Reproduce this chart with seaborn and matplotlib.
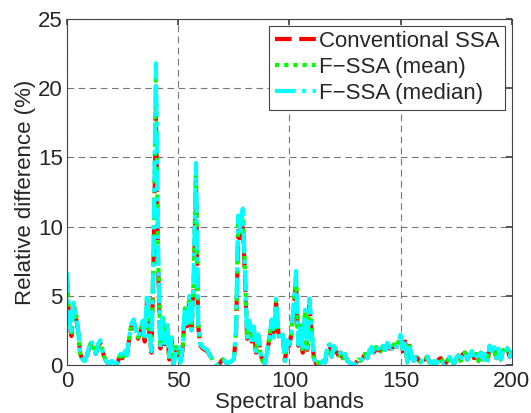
import numpy as np
import pandas as pd
import seaborn as sns
from matplotlib import pyplot as plt

# relative difference per spectral band (0..200)
bands = list(range(201))

median_vals = [
    6.7, 3.5, 2.2, 4.5, 3.8, 2.6, 0.8, 0.4, 0.3, 0.7,
    1.3, 1.8, 1.2, 0.8, 1.5, 1.8, 1.0, 0.5, 0.2, 0.1,
    0.3, 0.2, 0.0, 0.3, 0.8, 0.5, 1.0, 0.7, 2.0, 3.0,
    3.3, 2.5, 2.0, 2.5, 3.2, 1.8, 5.2, 2.5, 1.0, 9.0,
    21.8, 8.0, 1.3, 3.6, 1.6, 3.1, 0.4, 2.0, 0.0, 1.3,
    1.3, 0.2, 1.2, 4.2, 3.0, 5.0, 2.5, 6.5, 14.6, 3.0,
    1.5, 1.3, 1.2, 1.1, 0.8, 0.5, 0.3, 0.1, 0.0, 0.2,
    0.4, 0.3, 0.1, 0.2, 0.3, 0.4, 2.5, 10.8, 9.5, 11.3,
    7.0, 2.0, 3.2, 1.8, 2.8, 1.0, 2.2, 0.8, 0.3, 0.1,
    1.0, 2.0, 3.3, 2.0, 4.8, 2.5, 1.8, 2.2, 0.3, 1.8,
    1.5, 2.5, 4.5, 6.8, 1.5, 3.0, 1.0, 4.0, 1.2, 4.8,
    2.5, 0.5, 0.1, 0.2, 0.1, 0.3, 0.2, 1.2, 1.6, 0.6,
    1.4, 1.0, 0.7, 0.9, 0.5, 0.8, 0.3, 0.2, 0.1, 0.0,
    0.2, 0.4, 0.3, 0.5, 0.8, 0.5, 1.1, 1.3, 0.9, 1.3,
    1.2, 1.0, 1.4, 1.1, 1.6, 1.3, 1.2, 1.5, 1.3, 1.7,
    2.2, 1.0, 1.8, 0.2, 1.5, 0.5, 0.3, 0.6, 0.4, 0.2,
    0.5, 0.4, 0.6, 0.2, 0.1, 0.3, 0.1, 0.4, 0.5, 0.2,
    0.1, 0.3, 0.6, 0.3, 0.1, 0.5, 0.7, 0.3, 0.8, 0.9,
    0.4, 0.7, 1.0, 0.5, 0.8, 0.3, 0.9, 0.4, 0.8, 0.2,
    1.4, 1.0, 1.3, 0.5, 1.2, 0.4, 1.1, 0.9, 1.2, 0.6,
    1.1,
]

mean_vals = [
    6.5, 3.4, 2.2, 4.4, 3.7, 2.6, 0.8, 0.4, 0.3, 0.7,
    1.3, 1.7, 1.2, 0.8, 1.5, 1.7, 1.0, 0.5, 0.2, 0.1,
    0.3, 0.2, 0.0, 0.3, 0.8, 0.5, 1.0, 0.7, 2.0, 3.0,
    3.2, 2.5, 2.0, 2.5, 3.1, 1.8, 5.0, 2.5, 1.0, 8.8,
    21.0, 7.8, 1.3, 3.5, 1.6, 3.0, 0.4, 2.0, 0.0, 1.3,
    1.3, 0.2, 1.2, 4.1, 3.0, 4.9, 2.5, 6.3, 14.2, 3.0,
    1.5, 1.3, 1.2, 1.1, 0.8, 0.5, 0.3, 0.1, 0.0, 0.2,
    0.4, 0.3, 0.1, 0.2, 0.3, 0.4, 2.4, 10.5, 9.3, 11.0,
    6.8, 2.0, 3.1, 1.8, 2.7, 1.0, 2.2, 0.8, 0.3, 0.1,
    1.0, 2.0, 3.2, 2.0, 4.7, 2.5, 1.8, 2.2, 0.3, 1.8,
    1.5, 2.5, 4.4, 6.5, 1.5, 3.0, 1.0, 3.9, 1.2, 4.6,
    2.5, 0.5, 0.1, 0.2, 0.1, 0.3, 0.2, 1.2, 1.5, 0.6,
    1.4, 1.0, 0.7, 0.9, 0.5, 0.8, 0.3, 0.2, 0.1, 0.0,
    0.2, 0.4, 0.3, 0.5, 0.8, 0.5, 1.1, 1.3, 0.9, 1.3,
    1.2, 1.0, 1.4, 1.1, 1.6, 1.3, 1.2, 1.5, 1.3, 1.7,
    2.1, 1.0, 1.7, 0.2, 1.5, 0.5, 0.3, 0.6, 0.4, 0.2,
    0.5, 0.4, 0.6, 0.2, 0.1, 0.3, 0.1, 0.4, 0.5, 0.2,
    0.1, 0.3, 0.6, 0.3, 0.1, 0.5, 0.7, 0.3, 0.8, 0.9,
    0.4, 0.7, 1.0, 0.5, 0.8, 0.3, 0.9, 0.4, 0.8, 0.2,
    1.4, 1.0, 1.3, 0.5, 1.2, 0.4, 1.1, 0.9, 1.2, 0.6,
    1.1,
]

conventional_vals = [
    6.1, 3.3, 2.1, 4.2, 3.5, 2.5, 0.8, 0.4, 0.3, 0.7,
    1.2, 1.6, 1.2, 0.8, 1.4, 1.6, 1.0, 0.5, 0.2, 0.1,
    0.3, 0.2, 0.0, 0.3, 0.7, 0.5, 0.9, 0.7, 1.9, 2.8,
    3.1, 2.4, 1.9, 2.4, 3.0, 1.7, 4.7, 2.4, 0.9, 8.0,
    18.3, 7.2, 1.2, 3.3, 1.5, 2.8, 0.4, 1.9, 0.0, 1.2,
    1.2, 0.2, 1.1, 3.9, 2.8, 4.6, 2.4, 5.8, 13.3, 2.8,
    1.4, 1.2, 1.1, 1.0, 0.8, 0.5, 0.3, 0.1, 0.0, 0.2,
    0.4, 0.3, 0.1, 0.2, 0.3, 0.4, 2.2, 9.7, 8.8, 10.4,
    6.4, 1.9, 3.0, 1.7, 2.6, 0.9, 2.1, 0.8, 0.3, 0.1,
    0.9, 1.9, 3.0, 1.9, 4.5, 2.4, 1.7, 2.1, 0.3, 1.7,
    1.4, 2.4, 4.2, 6.0, 1.4, 2.8, 0.9, 3.7, 1.1, 4.3,
    2.3, 0.5, 0.1, 0.2, 0.1, 0.3, 0.2, 1.1, 1.5, 0.6,
    1.3, 1.0, 0.7, 0.9, 0.5, 0.8, 0.3, 0.2, 0.1, 0.0,
    0.2, 0.4, 0.3, 0.5, 0.8, 0.5, 1.0, 1.2, 0.9, 1.2,
    1.1, 1.0, 1.3, 1.1, 1.5, 1.2, 1.2, 1.4, 1.3, 1.6,
    2.0, 1.0, 1.7, 0.2, 1.4, 0.5, 0.3, 0.6, 0.4, 0.2,
    0.5, 0.4, 0.6, 0.2, 0.1, 0.3, 0.1, 0.4, 0.5, 0.2,
    0.1, 0.3, 0.6, 0.3, 0.1, 0.5, 0.7, 0.3, 0.8, 0.9,
    0.4, 0.7, 1.0, 0.5, 0.8, 0.3, 0.9, 0.4, 0.8, 0.2,
    1.3, 1.0, 1.3, 0.5, 1.2, 0.4, 1.1, 0.9, 1.2, 0.6,
    1.1,
]

x_ticks = [0, 50, 100, 150, 200]
y_ticks = [0, 5, 10, 15, 20, 25]

sns.set_theme(style="white")
plt.rcParams["font.family"] = ["Liberation Sans", "DejaVu Sans"]

fig = plt.figure(figsize=(5.31, 4.13), dpi=100)
ax = fig.add_axes([0.126, 0.116, 0.838, 0.838])

df = pd.DataFrame({"band": bands, "conv": conventional_vals,
                   "mean": mean_vals, "median": median_vals})

sns.lineplot(data=df, x="band", y="conv", ax=ax, color="#ff0000", lw=3,
             label="Conventional SSA", dashes=False)
ax.lines[-1].set_dashes([4, 1.8])
sns.lineplot(data=df, x="band", y="mean", ax=ax, color="#00ff00", lw=3,
             label="F\u2212SSA (mean)", dashes=False)
ax.lines[-1].set_dashes([1, 1.2])
sns.lineplot(data=df, x="band", y="median", ax=ax, color="#00ffff", lw=3,
             label="F\u2212SSA (median)", dashes=False)
ax.lines[-1].set_dashes([5, 1.5, 1, 1.5])

ax.set_xlim(0, 200)
ax.set_ylim(0, 25)
ax.set_xticks(x_ticks)
ax.set_yticks(y_ticks)
ax.grid(True, color="#777777", linestyle=(0, (6, 4)), lw=0.8)
ax.set_axisbelow(True)
for s in ax.spines.values():
    s.set_color("#444444")
    s.set_linewidth(0.8)
ax.tick_params(direction="in", top=True, right=True, length=4,
               labelsize=16, color="#444444", pad=2)
ax.tick_params(axis="x", pad=4)
ax.tick_params(axis="y", pad=3)
ax.set_xlabel("Spectral bands", fontsize=16, labelpad=0)
ax.set_ylabel("Relative difference (%)", fontsize=16, labelpad=1)

leg = ax.legend(loc="upper right", fontsize=16, handlelength=1.85,
                handletextpad=0.15, borderpad=0.25, labelspacing=0.22,
                borderaxespad=0.3, fancybox=False, framealpha=1)
leg.get_frame().set_edgecolor("#444444")
leg.get_frame().set_linewidth(0.8)

fig.savefig("out.png", dpi=100)
